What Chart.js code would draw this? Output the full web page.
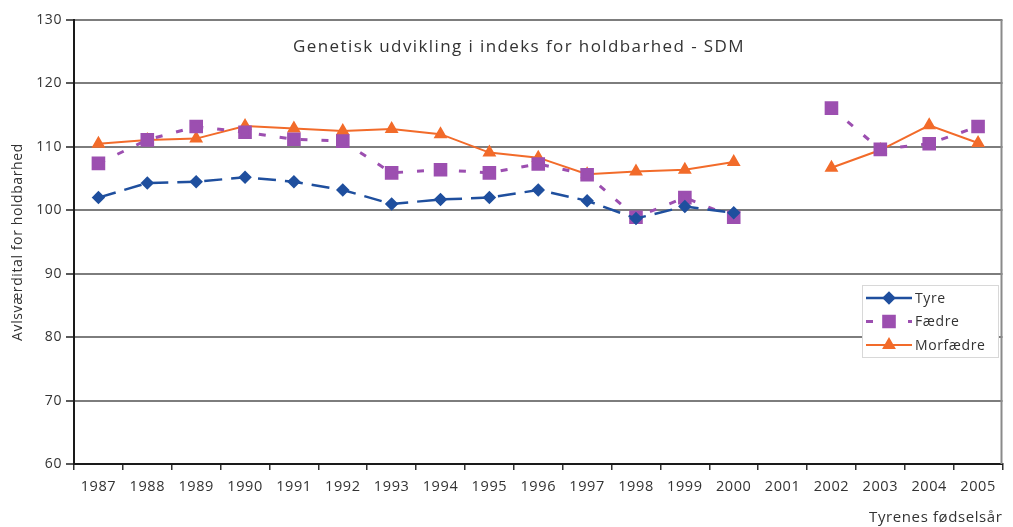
<!DOCTYPE html>
<html>
<head>
<meta charset="utf-8">
<script src="https://cdn.jsdelivr.net/npm/chart.js@4/dist/chart.umd.min.js"></script>
<style>
  html, body { margin: 0; padding: 0; background: #fff; }
  #wrap { width: 1013px; height: 527px; }
</style>
</head>
<body>
<div id="wrap"><canvas id="chart"></canvas></div>
<script>
const years = ["1987", "1988", "1989", "1990", "1991", "1992", "1993", "1994", "1995", "1996",
  "1997", "1998", "1999", "2000", "2001", "2002", "2003", "2004", "2005"];
const tyre = [102.0, 104.3, 104.5, 105.2, 104.5, 103.2, 101.0, 101.7, 102.0, 103.2,
  101.5, 98.7, 100.6, 99.6, null, null, null, null, null];
const faedre = [107.4, 111.1, 113.2, 112.3, 111.2, 110.9, 105.9, 106.4, 105.9, 107.3,
  105.6, 98.9, 102.0, 98.9, null, 116.1, 109.6, 110.5, 113.2];
const morfaedre = [110.5, 111.1, 111.3, 113.3, 112.9, 112.5, 112.8, 112.0, 109.1, 108.3,
  105.7, 106.1, 106.4, 107.6, null, 106.7, 109.5, 113.4, 110.6];
const yTicks = [60, 70, 80, 90, 100, 110, 120, 130];

const FONT = "'Open Sans', 'DejaVu Sans', sans-serif";
const TEXT = "#333333";

// the scanned original has loosely spaced lettering everywhere
const spacingPlugin = {
  id: "spacing",
  beforeDraw(chart) { chart.ctx.letterSpacing = "0.6px"; },
};

// title and legend both sit inside the plot area in the original
const insidePlugin = {
  id: "inside",
  afterDraw(chart) {
    const ctx = chart.ctx;
    const area = chart.chartArea;
    ctx.save();

    // right edge of the plot frame
    ctx.strokeStyle = "#8a8a8a";
    ctx.lineWidth = 2;
    ctx.beginPath();
    ctx.moveTo(area.right - 1, area.top);
    ctx.lineTo(area.right - 1, area.bottom);
    ctx.stroke();

    ctx.fillStyle = TEXT;
    ctx.font = "17px " + FONT;
    ctx.letterSpacing = "1.4px";
    ctx.textAlign = "center";
    ctx.textBaseline = "middle";
    ctx.fillText("Genetisk udvikling i indeks for holdbarhed - SDM", 519, 47);
    ctx.letterSpacing = "0.6px";

    // legend box
    const bx = 862, by = 285, bw = 136, bh = 72;
    ctx.fillStyle = "#ffffff";
    ctx.fillRect(bx, by, bw, bh);
    ctx.strokeStyle = "#d8d8d8";
    ctx.lineWidth = 1;
    ctx.strokeRect(bx + 0.5, by + 0.5, bw, bh);

    chart.data.datasets.forEach((ds, i) => {
      const y = by + 13 + i * 23.5;
      ctx.strokeStyle = ds.borderColor;
      ctx.lineWidth = ds.borderWidth;
      ctx.setLineDash(ds.legendDash || []);
      ctx.beginPath();
      ctx.moveTo(bx + 4, y);
      ctx.lineTo(bx + 50, y);
      ctx.stroke();
      ctx.setLineDash([]);
      ctx.fillStyle = ds.pointBackgroundColor;
      ctx.strokeStyle = ds.borderColor;
      Chart.helpers.drawPoint(ctx, {
        pointStyle: ds.pointStyle,
        radius: ds.pointRadius,
        borderWidth: 1,
      }, bx + 27, y);
      ctx.fillStyle = TEXT;
      ctx.font = "14px " + FONT;
      ctx.textAlign = "left";
      ctx.fillText(ds.label, bx + 53, y + 1);
    });
    ctx.restore();
  },
};

new Chart(document.getElementById("chart"), {
  type: "line",
  data: {
    labels: years,
    datasets: [
      {
        label: "Tyre",
        data: tyre,
        borderColor: "#1f4f9e",
        backgroundColor: "#1f4f9e",
        pointBackgroundColor: "#1f4f9e",
        borderWidth: 2.5,
        borderDash: [18, 9],
        legendDash: [],
        pointStyle: "rectRot",
        pointRadius: 5,
      },
      {
        label: "Fædre",
        data: faedre,
        borderColor: "#9c4fb0",
        backgroundColor: "#9c4fb0",
        pointBackgroundColor: "#9c4fb0",
        borderWidth: 3,
        borderDash: [7, 14],
        legendDash: [7, 14],
        pointStyle: "rect",
        pointRadius: 7.5,
      },
      {
        label: "Morfædre",
        data: morfaedre,
        borderColor: "#f26b2a",
        backgroundColor: "#f26b2a",
        pointBackgroundColor: "#f26b2a",
        borderWidth: 2,
        legendDash: [],
        pointStyle: "triangle",
        pointRadius: 6,
      },
    ],
  },
  options: {
    responsive: true,
    maintainAspectRatio: false,
    animation: false,
    spanGaps: false,
    layout: { padding: { top: 20, right: 1, left: 6, bottom: 0 } },
    elements: { line: { tension: 0 }, point: { borderWidth: 1, hoverRadius: 7 } },
    plugins: {
      legend: { display: false },
      tooltip: { enabled: false },
    },
    scales: {
      x: {
        offset: true,
        grid: { offset: true, drawOnChartArea: false, tickLength: 6, color: "#333", lineWidth: 1.5 },
        border: { color: "#1a1a1a", width: 2 },
        ticks: { color: TEXT, font: { family: FONT, size: 14.5 }, padding: 8, maxRotation: 0, autoSkip: false },
        title: {
          display: true,
          text: "Tyrenes fødselsår",
          align: "end",
          color: TEXT,
          font: { family: FONT, size: 15 },
          padding: { top: 5, bottom: 0 },
        },
        afterFit(scale) { scale.height = 63; },
      },
      y: {
        min: 60,
        max: 130,
        afterBuildTicks(scale) { scale.ticks = yTicks.map((v) => ({ value: v })); },
        ticks: { color: TEXT, font: { family: FONT, size: 14 }, padding: 4 },
        grid: { color: "#7d7d7d", lineWidth: 2, tickLength: 8, tickColor: "#222", tickWidth: 1.5 },
        border: { color: "#1a1a1a", width: 2 },
        title: {
          display: true,
          text: "Avlsværdital for holdbarhed",
          color: TEXT,
          font: { family: FONT, size: 14 },
          padding: { top: 4, bottom: 4 },
        },
        afterFit(scale) { scale.width = 68; },
      },
    },
  },
  plugins: [spacingPlugin, insidePlugin],
});
</script>
</body>
</html>
